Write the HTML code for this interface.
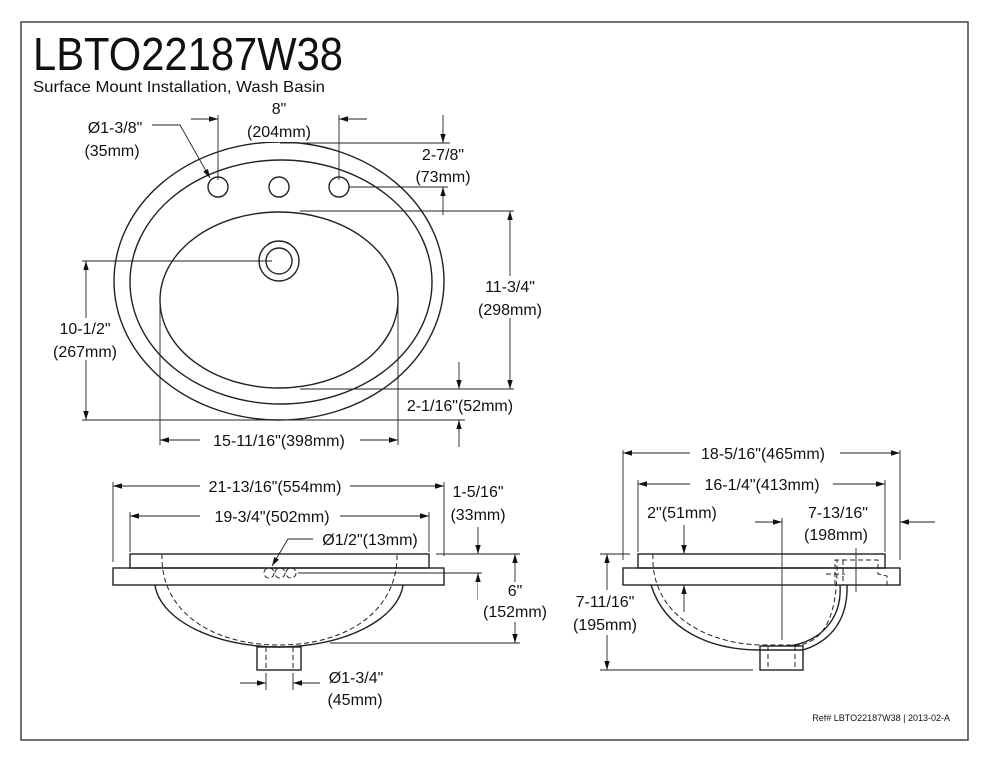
<!DOCTYPE html>
<html><head><style>
html,body{margin:0;padding:0;background:#fff;}
svg{display:block;}
text{font-family:"Liberation Sans",sans-serif;fill:#111;}
</style></head><body>
<svg width="990" height="762" viewBox="0 0 990 762" xmlns="http://www.w3.org/2000/svg">
<defs>
<marker id="a" viewBox="0 0 10 10" refX="10" refY="5" markerWidth="9" markerHeight="9" orient="auto-start-reverse" markerUnits="userSpaceOnUse"><path d="M0,2 L10,5 L0,8 z" fill="#111"/></marker>
</defs>
<rect x="21" y="22" width="947" height="718" fill="none" stroke="#444" stroke-width="1.5"/>
<text x="33" y="70" font-size="46" textLength="310" lengthAdjust="spacingAndGlyphs">LBTO22187W38</text>
<text x="33" y="92" font-size="16" textLength="292" lengthAdjust="spacingAndGlyphs">Surface Mount Installation, Wash Basin</text>

<g fill="none" stroke="#222" stroke-width="1.4">
<ellipse cx="279" cy="281" rx="165" ry="139"/>
<ellipse cx="281" cy="282" rx="151" ry="122"/>
<ellipse cx="279" cy="300" rx="119" ry="88"/>
<circle cx="218" cy="187" r="10"/><circle cx="279" cy="187" r="10"/><circle cx="339" cy="187" r="10"/>
<circle cx="279" cy="261" r="20"/><circle cx="279" cy="261" r="13"/>
</g>
<g fill="none" stroke="#222" stroke-width="0.9">
<line x1="218" y1="115" x2="218" y2="180"/><line x1="339" y1="115" x2="339" y2="180"/>
<line x1="191" y1="119" x2="218" y2="119" marker-end="url(#a)"/>
<line x1="367" y1="119" x2="339" y2="119" marker-end="url(#a)"/>
<polyline points="152,125 180,125 210,178" marker-end="url(#a)"/>
<line x1="280" y1="143" x2="450" y2="143"/>
<line x1="349" y1="187" x2="448" y2="187"/>
<line x1="443" y1="115" x2="443" y2="143" marker-end="url(#a)"/>
<line x1="443" y1="215" x2="443" y2="187" marker-end="url(#a)"/>
<line x1="300" y1="211" x2="514" y2="211"/>
<line x1="300" y1="389" x2="514" y2="389"/>
<line x1="510" y1="290" x2="510" y2="211" marker-end="url(#a)"/>
<line x1="510" y1="300" x2="510" y2="389" marker-end="url(#a)"/>
<line x1="459" y1="362" x2="459" y2="389" marker-end="url(#a)"/>
<line x1="459" y1="447" x2="459" y2="420" marker-end="url(#a)"/>
<line x1="82" y1="420" x2="465" y2="420"/>
<line x1="82" y1="261" x2="272" y2="261"/>
<line x1="86" y1="330" x2="86" y2="261" marker-end="url(#a)"/>
<line x1="86" y1="340" x2="86" y2="420" marker-end="url(#a)"/>
<line x1="160" y1="305" x2="160" y2="445"/><line x1="398" y1="305" x2="398" y2="445"/>
<line x1="200" y1="440" x2="160" y2="440" marker-end="url(#a)"/>
<line x1="360" y1="440" x2="398" y2="440" marker-end="url(#a)"/>
</g>
<g font-size="16" text-anchor="middle">
<rect x="250" y="98" width="58" height="44" fill="#fff"/>
<text x="279" y="114">8"</text><text x="279" y="137">(204mm)</text>
<text x="115" y="133">Ø1-3/8"</text><text x="112" y="156">(35mm)</text>
<rect x="412" y="148" width="62" height="36" fill="#fff"/>
<text x="443" y="160">2-7/8"</text><text x="443" y="182">(73mm)</text>
<rect x="474" y="276" width="72" height="42" fill="#fff"/>
<text x="510" y="292">11-3/4"</text><text x="510" y="315">(298mm)</text>
<text x="460" y="411">2-1/16"(52mm)</text>
<rect x="48" y="318" width="65" height="42" fill="#fff"/>
<text x="85" y="334">10-1/2"</text><text x="85" y="357">(267mm)</text>
<rect x="205" y="430" width="150" height="20" fill="#fff"/>
<text x="279" y="446">15-11/16"(398mm)</text>
</g>

<g fill="none" stroke="#222" stroke-width="1.4">
<rect x="130" y="554" width="299" height="14"/>
<rect x="113" y="568" width="331" height="17"/>
<path d="M155,585 C160,620 215,647 279,647 C343,647 398,620 403,585"/>
<rect x="257" y="647" width="44" height="23"/>
</g>
<g fill="none" stroke="#222" stroke-width="1" stroke-dasharray="5,3">
<path d="M162,554 C160,610 210,645 279,645 C348,645 398,610 397,554"/>
<line x1="266" y1="647" x2="266" y2="670"/><line x1="293" y1="647" x2="293" y2="670"/>
<circle cx="269" cy="573" r="5"/><circle cx="280" cy="573" r="5"/><circle cx="291" cy="573" r="5"/>
</g>
<g fill="none" stroke="#222" stroke-width="0.9">
<line x1="113" y1="482" x2="113" y2="562"/><line x1="444" y1="482" x2="444" y2="556"/>
<line x1="200" y1="486" x2="113" y2="486" marker-end="url(#a)"/>
<line x1="350" y1="486" x2="444" y2="486" marker-end="url(#a)"/>
<line x1="130" y1="512" x2="130" y2="552"/><line x1="429" y1="512" x2="429" y2="552"/>
<line x1="200" y1="516" x2="130" y2="516" marker-end="url(#a)"/>
<line x1="340" y1="516" x2="429" y2="516" marker-end="url(#a)"/>
<polyline points="313,539 288,539 272,566" marker-end="url(#a)"/>
<line x1="436" y1="554" x2="520" y2="554"/>
<line x1="298" y1="573" x2="482" y2="573"/>
<line x1="478" y1="527" x2="478" y2="554" marker-end="url(#a)"/>
<line x1="478" y1="600" x2="478" y2="573" marker-end="url(#a)"/>
<line x1="330" y1="643" x2="520" y2="643"/>
<line x1="515" y1="590" x2="515" y2="554" marker-end="url(#a)"/>
<line x1="515" y1="610" x2="515" y2="643" marker-end="url(#a)"/>
<line x1="266" y1="673" x2="266" y2="690"/><line x1="293" y1="673" x2="293" y2="690"/>
<line x1="240" y1="683" x2="266" y2="683" marker-end="url(#a)"/>
<line x1="320" y1="683" x2="293" y2="683" marker-end="url(#a)"/>
</g>
<g font-size="16" text-anchor="middle">
<rect x="202" y="476" width="148" height="20" fill="#fff"/>
<text x="275" y="492">21-13/16"(554mm)</text>
<rect x="205" y="506" width="135" height="20" fill="#fff"/>
<text x="272" y="522">19-3/4"(502mm)</text>
<text x="370" y="545">Ø1/2"(13mm)</text>
<text x="478" y="497">1-5/16"</text><text x="478" y="520">(33mm)</text>
<rect x="478" y="582" width="74" height="40" fill="#fff"/>
<text x="515" y="596">6"</text><text x="515" y="617">(152mm)</text>
<text x="356" y="683">Ø1-3/4"</text><text x="355" y="705">(45mm)</text>
</g>

<g fill="none" stroke="#222" stroke-width="1.4">
<rect x="638" y="554" width="247" height="14"/>
<rect x="623" y="568" width="277" height="17"/>
<path d="M651,585 C665,630 710,650 760,650"/>
<path d="M760,650 L803,650 C835,640 848,615 847,585"/>
<path d="M840,585 C842,615 825,640 790,646"/>
<rect x="760" y="646" width="43" height="24"/>
</g>
<g fill="none" stroke="#222" stroke-width="1" stroke-dasharray="5,3">
<path d="M653,554 C650,610 700,643 760,645 L800,645 C825,640 838,615 837,560"/>
<line x1="768" y1="646" x2="768" y2="670"/><line x1="795" y1="646" x2="795" y2="670"/>
<polyline points="835,585 835,560 878,560 878,574 887,576 887,585"/>
<line x1="843" y1="560" x2="843" y2="585"/>
<line x1="826" y1="574" x2="845" y2="574"/>
</g>
<g fill="none" stroke="#222" stroke-width="0.9">
<line x1="623" y1="450" x2="623" y2="560"/><line x1="900" y1="450" x2="900" y2="560"/>
<line x1="690" y1="453" x2="623" y2="453" marker-end="url(#a)"/>
<line x1="840" y1="453" x2="900" y2="453" marker-end="url(#a)"/>
<line x1="638" y1="480" x2="638" y2="552"/><line x1="885" y1="480" x2="885" y2="552"/>
<line x1="690" y1="484" x2="638" y2="484" marker-end="url(#a)"/>
<line x1="833" y1="484" x2="885" y2="484" marker-end="url(#a)"/>
<line x1="684" y1="525" x2="684" y2="554" marker-end="url(#a)"/>
<line x1="684" y1="612" x2="684" y2="585" marker-end="url(#a)"/>
<line x1="782" y1="518" x2="782" y2="640"/>
<line x1="755" y1="522" x2="782" y2="522" marker-end="url(#a)"/>
<line x1="935" y1="522" x2="900" y2="522" marker-end="url(#a)"/>
<line x1="856" y1="548" x2="856" y2="592"/>
<line x1="600" y1="554" x2="630" y2="554"/>
<line x1="600" y1="670" x2="753" y2="670"/>
<line x1="607" y1="595" x2="607" y2="554" marker-end="url(#a)"/>
<line x1="607" y1="635" x2="607" y2="670" marker-end="url(#a)"/>
</g>
<g font-size="16" text-anchor="middle">
<rect x="692" y="443" width="146" height="20" fill="#fff"/>
<text x="763" y="459">18-5/16"(465mm)</text>
<rect x="692" y="474" width="140" height="20" fill="#fff"/>
<text x="762" y="490">16-1/4"(413mm)</text>
<text x="682" y="518">2"(51mm)</text>
<text x="838" y="518">7-13/16"</text><text x="836" y="540">(198mm)</text>
<rect x="570" y="590" width="72" height="42" fill="#fff"/>
<text x="605" y="607">7-11/16"</text><text x="605" y="630">(195mm)</text>
</g>
<text x="950" y="721" font-size="9" text-anchor="end">Ref# LBTO22187W38 | 2013-02-A</text>
</svg>
</body></html>
